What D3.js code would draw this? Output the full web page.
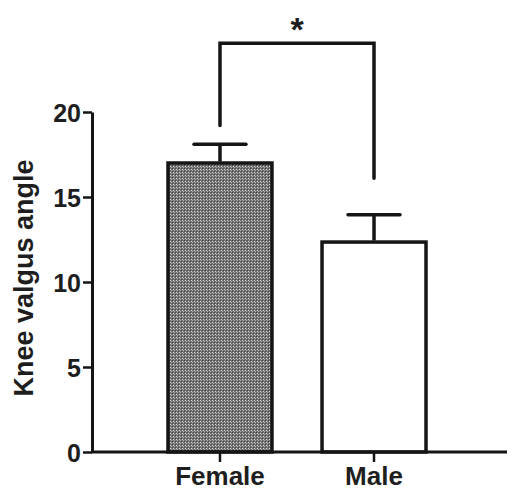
<!DOCTYPE html>
<html>
<head>
<meta charset="utf-8">
<script src="https://cdn.jsdelivr.net/npm/d3@7"></script>
<style>
  body { margin: 0; background: #fff; }
  text { font-family: "Liberation Sans", Arial, sans-serif; font-weight: bold; fill: #1e1e1e; }
</style>
</head>
<body>
<svg id="chart" width="527" height="496"></svg>
<script>
// data
const groups = ["Female", "Male"];
const means = [17.0, 12.35];
const errors = [1.1, 1.6];
const yTicks = [0, 5, 10, 15, 20];
const sigLabel = "*";

const svg = d3.select("#chart");
const margin = {left: 92, top: 112, right: 20, bottom: 44};
const width = 527 - margin.left - margin.right;
const height = 496 - margin.top - margin.bottom;

// fine dot screen for the female bar
const defs = svg.append("defs");
const pat = defs.append("pattern")
  .attr("id", "dots").attr("patternUnits", "userSpaceOnUse")
  .attr("width", 3).attr("height", 3);
pat.append("rect").attr("width", 3).attr("height", 3).attr("fill", "#707070");
pat.append("rect").attr("width", 1).attr("height", 1).attr("fill", "#d6d6d6");
pat.append("rect").attr("x", 1).attr("y", 1).attr("width", 1).attr("height", 1).attr("fill", "#acacac");
pat.append("rect").attr("x", 2).attr("y", 2).attr("width", 1).attr("height", 1).attr("fill", "#484848");

const g = svg.append("g").attr("transform", `translate(${margin.left},${margin.top})`);

const x = d3.scaleBand().domain(groups).range([76, 334]).paddingInner(0.325).paddingOuter(0);
const y = d3.scaleLinear().domain([0, 20]).range([height, 0]);

// bars
g.selectAll("rect.bar").data(groups).enter().append("rect")
  .attr("class", "bar")
  .attr("x", d => x(d))
  .attr("y", (d, i) => y(means[i]))
  .attr("width", x.bandwidth())
  .attr("height", (d, i) => height - y(means[i]))
  .attr("fill", (d, i) => i === 0 ? "url(#dots)" : "#fff")
  .attr("stroke", "#151515").attr("stroke-width", 3.5);

// error bars (upper only)
const capW = x.bandwidth() * 0.5;
groups.forEach((d, i) => {
  const cx = x(d) + x.bandwidth() / 2;
  g.append("line").attr("x1", cx).attr("x2", cx)
    .attr("y1", y(means[i]) - 1.5).attr("y2", y(means[i] + errors[i]))
    .attr("stroke", "#151515").attr("stroke-width", 3.5);
  g.append("line").attr("x1", cx - capW / 2).attr("x2", cx + capW / 2)
    .attr("y1", y(means[i] + errors[i])).attr("y2", y(means[i] + errors[i]))
    .attr("stroke", "#151515").attr("stroke-width", 3.5).attr("stroke-linecap", "round");
});

// x axis (baseline runs the full plot width)
const xAxis = g.append("g").attr("transform", `translate(0,${height})`)
  .call(d3.axisBottom(x).tickSize(10).tickSizeOuter(0).tickPadding(5));
xAxis.select(".domain").remove();
xAxis.append("line").attr("x1", 0).attr("x2", width)
  .attr("stroke", "#151515").attr("stroke-width", 3);
xAxis.selectAll(".tick line").attr("stroke", "#151515").attr("stroke-width", 2.5);
xAxis.selectAll(".tick text").style("font-size", "26px");

// y axis
const yAxis = g.append("g").call(d3.axisLeft(y).tickValues(yTicks).tickSize(9).tickSizeOuter(0).tickPadding(2));
yAxis.select(".domain").attr("stroke", "#151515").attr("stroke-width", 3);
yAxis.selectAll(".tick line").attr("stroke", "#151515").attr("stroke-width", 2.5);
yAxis.selectAll(".tick text").style("font-size", "25px").attr("dy", "0.36em");

// y label
g.append("text")
  .attr("transform", `translate(-59,${height / 2 - 4}) rotate(-90)`)
  .attr("text-anchor", "middle")
  .style("font-size", "27px")
  .text("Knee valgus angle");

// significance bracket
const bx0 = x(groups[0]) + x.bandwidth() / 2;
const bx1 = x(groups[1]) + x.bandwidth() / 2;
const bTop = y(24.05);
g.append("path")
  .attr("d", `M${bx0},${y(19.2)}V${bTop}H${bx1}V${y(16.1)}`)
  .attr("fill", "none").attr("stroke", "#151515").attr("stroke-width", 3.5)
  .attr("stroke-linecap", "round").attr("stroke-linejoin", "miter");
g.append("text")
  .attr("x", (bx0 + bx1) / 2).attr("y", bTop - 2)
  .attr("text-anchor", "middle")
  .style("font-size", "34px")
  .text(sigLabel);
</script>
</body>
</html>
